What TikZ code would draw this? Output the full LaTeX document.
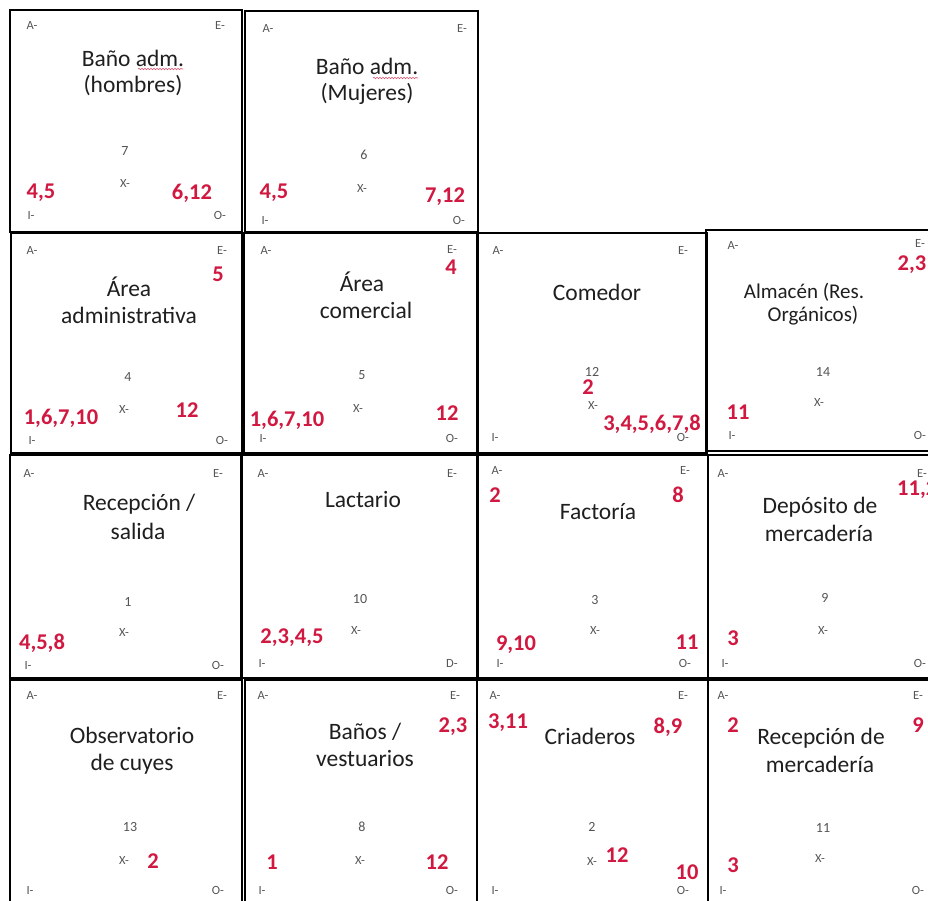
\documentclass[tikz,border=0pt]{standalone}
\usepackage{fontspec}
\setmainfont{Carlito}
\usetikzlibrary{decorations.pathmorphing}
\definecolor{rednum}{RGB}{208,24,64}
\definecolor{graylbl}{RGB}{85,85,85}
\begin{document}
\begin{tikzpicture}[x=1pt,y=-1pt,
  box/.style={draw=black, line width=1.6pt},
  lbl/.style={inner sep=0pt, text=graylbl, font=\fontsize{12.5}{14}\selectfont},
  idn/.style={inner sep=0pt, text=graylbl, font=\fontsize{14}{16}\selectfont},
  ttl/.style={inner sep=0pt, anchor=base, text=black!88, font=\fontsize{23.5}{27}\selectfont},
  rd/.style={inner sep=0pt, text=rednum, font=\fontsize{22.5}{26}\selectfont\bfseries},
  wavy/.style={draw=rednum!75, line width=0.6pt, decorate, decoration={snake, amplitude=0.7pt, segment length=3pt}}]
\useasboundingbox[fill=white] (0,0) rectangle (928,900);

% ---------- frames ----------
\draw[box] (10,10) rectangle (242,232);
\draw[box] (245,11) rectangle (478,232);
\draw[box] (11,233) rectangle (242,453);
\draw[box] (244,233) rectangle (478,453);
\draw[box] (477,233) rectangle (707,453);
\draw[box] (706,230) rectangle (940,451);
\draw[box] (10,455) rectangle (241,678);
\draw[box] (242,455) rectangle (478,678);
\draw[box] (477,455) rectangle (708,678);
\draw[box] (708,455) rectangle (940,678);
\draw[box] (10,680) rectangle (242,910);
\draw[box] (245,680) rectangle (477,910);
\draw[box] (477,680) rectangle (708,910);
\draw[box] (708,680) rectangle (940,910);

% ---------- 1: Baño adm. (hombres) ----------
\node[lbl] (a1) at (32,25) {A-};
\node[lbl] (e1) at (220,25) {E-};
\node[lbl] (i1) at (31,215) {I-};
\node[lbl] (o1) at (220,215) {O-};
\node[idn] (n1) at (125,151) {7};
\node[lbl] (x1) at (125,183) {X-};
\node[ttl] (t1a) at (133,66) {Baño adm.};
\node[ttl] (t1b) at (133,92) {(hombres)};
\draw[wavy] (138,69) -- (183,69);
\node[rd] (r1a) at (41,193) {4,5};
\node[rd] (r1b) at (192,193) {6,12};

% ---------- 2: Baño adm. (Mujeres) ----------
\node[lbl] (a2) at (268,28) {A-};
\node[lbl] (e2) at (462,28) {E-};
\node[lbl] (i2) at (265,220) {I-};
\node[lbl] (o2) at (459,220) {O-};
\node[idn] (n2) at (364,155) {6};
\node[lbl] (x2) at (362,188) {X-};
\node[ttl] (t2a) at (367,74) {Baño adm.};
\node[ttl] (t2b) at (367,100) {(Mujeres)};
\draw[wavy] (373,78) -- (418,78);
\node[rd] (r2a) at (274,193) {4,5};
\node[rd] (r2b) at (445,197) {7,12};

% ---------- 3: Área administrativa ----------
\node[lbl] (a3) at (32,250) {A-};
\node[lbl] (e3) at (222,250) {E-};
\node[lbl] (i3) at (32,440) {I-};
\node[lbl] (o3) at (222,440) {O-};
\node[idn] (n3) at (128,377) {4};
\node[lbl] (x3) at (124,409) {X-};
\node[ttl] (t3a) at (129,296) {Área};
\node[ttl] (t3b) at (129,323) {administrativa};
\node[rd] (r3a) at (218,274) {5};
\node[rd] (r3b) at (61,418) {1,6,7,10};
\node[rd] (r3c) at (187,410) {12};

% ---------- 4: Área comercial ----------
\node[lbl] (a4) at (266,250) {A-};
\node[lbl] (e4) at (452,249) {E-};
\node[lbl] (i4) at (263,438) {I-};
\node[lbl] (o4) at (452,438) {O-};
\node[idn] (n4) at (362,375) {5};
\node[lbl] (x4) at (358,408) {X-};
\node[ttl] (t4a) at (362,291) {Área};
\node[ttl] (t4b) at (366,318) {comercial};
\node[rd] (r4a) at (451,267) {4};
\node[rd] (r4b) at (287,420) {1,6,7,10};
\node[rd] (r4c) at (447,413) {12};

% ---------- 5: Comedor ----------
\node[lbl] (a5) at (498,250) {A-};
\node[lbl] (e5) at (683,250) {E-};
\node[lbl] (i5) at (495,437) {I-};
\node[lbl] (o5) at (683,437) {O-};
\node[idn] (n5) at (592,372) {12};
\node[lbl] (x5) at (593,405) {X-};
\node[ttl] (t5a) at (597,300) {Comedor};
\node[rd] (r5a) at (588,387) {2};
\node[rd] (r5b) at (652,424) {3,4,5,6,7,8};

% ---------- 6: Almacén (Res. Orgánicos) ----------
\node[lbl] (a6) at (733,245) {A-};
\node[lbl] (e6) at (920,243) {E-};
\node[lbl] (i6) at (732,435) {I-};
\node[lbl] (o6) at (920,435) {O-};
\node[idn] (n6) at (823,372) {14};
\node[lbl] (x6) at (819,402) {X-};
\node[ttl, font=\fontsize{21}{24}\selectfont] (t6a) at (804,298) {Almacén (Res.};
\node[ttl, font=\fontsize{21}{24}\selectfont] (t6b) at (813,321) {Orgánicos)};
\node[rd] (r6a) at (912,265) {2,3};
\node[rd] (r6b) at (738,412) {11};

% ---------- 7: Recepción / salida ----------
\node[lbl] (a7) at (29,473) {A-};
\node[lbl] (e7) at (218,473) {E-};
\node[lbl] (i7) at (28,665) {I-};
\node[lbl] (o7) at (218,665) {O-};
\node[idn] (n7) at (128,602) {1};
\node[lbl] (x7) at (124,632) {X-};
\node[ttl] (t7a) at (139,510) {Recepción /};
\node[ttl] (t7b) at (138,539) {salida};
\node[rd] (r7a) at (42,643) {4,5,8};

% ---------- 8: Lactario ----------
\node[lbl] (a8) at (263,473) {A-};
\node[lbl] (e8) at (452,473) {E-};
\node[lbl] (i8) at (262,663) {I-};
\node[lbl] (o8) at (452,663) {D-};
\node[idn] (n8) at (360,599) {10};
\node[lbl] (x8) at (356,630) {X-};
\node[ttl] (t8a) at (363,507) {Lactario};
\node[rd] (r8a) at (292,638) {2,3,4,5};

% ---------- 9: Factoría ----------
\node[lbl] (a9) at (497,470) {A-};
\node[lbl] (e9) at (685,470) {E-};
\node[lbl] (i9) at (500,663) {I-};
\node[lbl] (o9) at (685,663) {O-};
\node[idn] (n9) at (595,600) {3};
\node[lbl] (x9) at (595,630) {X-};
\node[ttl] (t9a) at (598,519) {Factoría};
\node[rd] (r9a) at (495,495) {2};
\node[rd] (r9b) at (678,495) {8};
\node[rd] (r9c) at (516,645) {9,10};
\node[rd] (r9d) at (687,642) {11};

% ---------- 10: Depósito de mercadería ----------
\node[lbl] (a10) at (723,473) {A-};
\node[lbl] (e10) at (922,473) {E-};
\node[lbl] (i10) at (725,663) {I-};
\node[lbl] (o10) at (920,663) {O-};
\node[idn] (n10) at (825,598) {9};
\node[lbl] (x10) at (823,630) {X-};
\node[ttl] (t10a) at (820,513) {Depósito de};
\node[ttl] (t10b) at (819,541) {mercadería};
\node[rd, anchor=west] (r10a) at (897,490) {11,2};
\node[rd] (r10b) at (733,638) {3};

% ---------- 11: Observatorio de cuyes ----------
\node[lbl] (a11) at (32,695) {A-};
\node[lbl] (e11) at (222,695) {E-};
\node[lbl] (i11) at (30,890) {I-};
\node[lbl] (o11) at (218,890) {O-};
\node[idn] (n11) at (130,827) {13};
\node[lbl] (x11) at (124,860) {X-};
\node[ttl] (t11a) at (132,743) {Observatorio};
\node[ttl] (t11b) at (132,770) {de cuyes};
\node[rd] (r11a) at (153,861) {2};

% ---------- 12: Baños / vestuarios ----------
\node[lbl] (a12) at (263,695) {A-};
\node[lbl] (e12) at (455,695) {E-};
\node[lbl] (i12) at (262,890) {I-};
\node[lbl] (o12) at (452,890) {O-};
\node[idn] (n12) at (362,827) {8};
\node[lbl] (x12) at (360,860) {X-};
\node[ttl] (t12a) at (365,739) {Baños /};
\node[ttl] (t12b) at (365,766) {vestuarios};
\node[rd] (r12a) at (453,727) {2,3};
\node[rd] (r12b) at (272,862) {1};
\node[rd] (r12c) at (437,862) {12};

% ---------- 13: Criaderos ----------
\node[lbl] (a13) at (495,695) {A-};
\node[lbl] (e13) at (683,695) {E-};
\node[lbl] (i13) at (495,890) {I-};
\node[lbl] (o13) at (683,890) {O-};
\node[idn] (n13) at (592,827) {2};
\node[lbl] (x13) at (592,861) {X-};
\node[ttl] (t13a) at (590,744) {Criaderos};
\node[rd] (r13a) at (508,723) {3,11};
\node[rd] (r13b) at (668,727) {8,9};
\node[rd] (r13c) at (617,855) {12};
\node[rd] (r13d) at (687,872) {10};

% ---------- 14: Recepción de mercadería ----------
\node[lbl] (a14) at (723,695) {A-};
\node[lbl] (e14) at (918,695) {E-};
\node[lbl] (i14) at (723,890) {I-};
\node[lbl] (o14) at (918,890) {O-};
\node[idn] (n14) at (823,828) {11};
\node[lbl] (x14) at (820,858) {X-};
\node[ttl] (t14a) at (821,744) {Recepción de};
\node[ttl] (t14b) at (820,772) {mercadería};
\node[rd] (r14a) at (733,725) {2};
\node[rd] (r14b) at (918,725) {9};
\node[rd] (r14c) at (733,865) {3};
\end{tikzpicture}
\end{document}
